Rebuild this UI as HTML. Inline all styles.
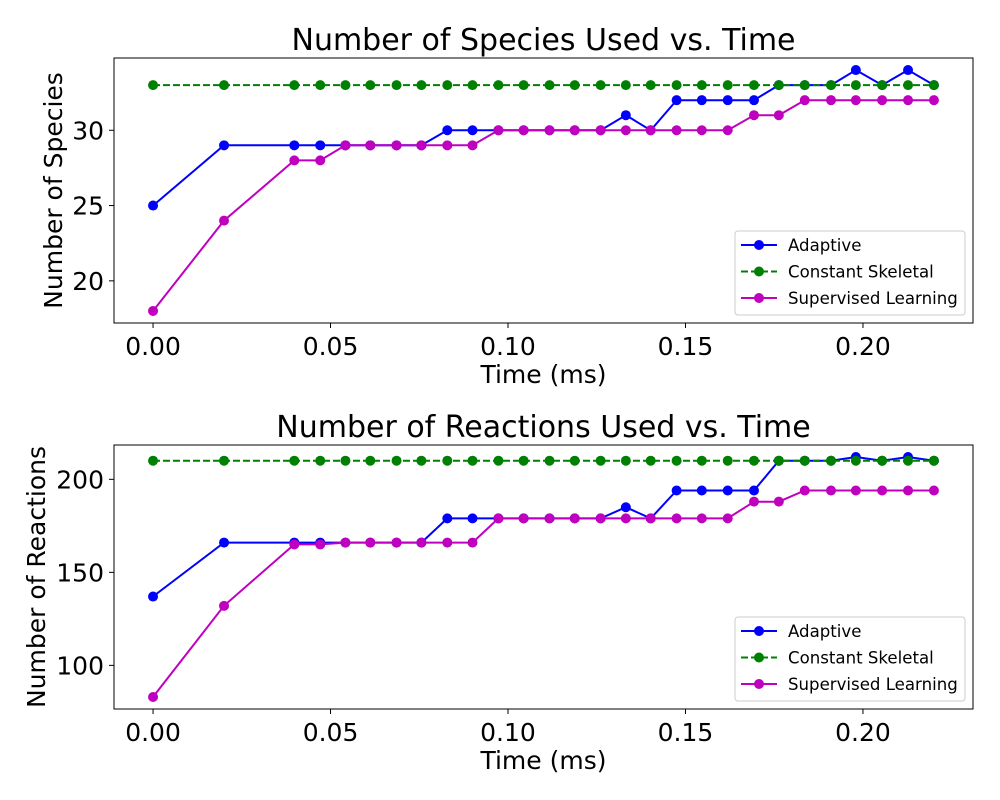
<!DOCTYPE html>
<html><head><meta charset="utf-8"><style>
body{margin:0;background:#fff;}
svg{display:block;font-family:"DejaVu Sans","Liberation Sans",sans-serif;}
</style></head><body>
<svg id="chart" width="1000" height="800" viewBox="0 0 1000 800"></svg>
<script>
const times=[0,0.02,0.0398,0.0471,0.0542,0.0612,0.0686,0.0756,0.0829,0.09,0.0973,0.1044,0.1117,0.1188,0.1261,0.1332,0.1402,0.1475,0.1546,0.1619,0.1693,0.1763,0.1836,0.191,0.198,0.2054,0.2127,0.22];
const speciesAdaptive=[25,29,29,29,29,29,29,29,30,30,30,30,30,30,30,31,30,32,32,32,32,33,33,33,34,33,34,33];
const speciesConstant=[33,33,33,33,33,33,33,33,33,33,33,33,33,33,33,33,33,33,33,33,33,33,33,33,33,33,33,33];
const speciesSL=[18,24,28,28,29,29,29,29,29,29,30,30,30,30,30,30,30,30,30,30,31,31,32,32,32,32,32,32];
const reactAdaptive=[137,166,166,166,166,166,166,166,179,179,179,179,179,179,179,185,179,194,194,194,194,210,210,210,212,210,212,210];
const reactConstant=[210,210,210,210,210,210,210,210,210,210,210,210,210,210,210,210,210,210,210,210,210,210,210,210,210,210,210,210];
const reactSL=[83,132,165,165,166,166,166,166,166,166,179,179,179,179,179,179,179,179,179,179,188,188,194,194,194,194,194,194];
const xTicks=[0,0.05,0.1,0.15,0.2];
const xTickLabels=["0.00","0.05","0.10","0.15","0.20"];
const speciesTicks=[20,25,30];
const reactTicks=[100,150,200];
const seriesNames=["Adaptive","Constant Skeletal","Supervised Learning"];

const svg=document.getElementById('chart');
const NS='http://www.w3.org/2000/svg';
function mk(tag,attrs,parent){const e=document.createElementNS(NS,tag);for(const k in attrs)e.setAttribute(k,attrs[k]);(parent||svg).appendChild(e);return e;}
const X0=114,X1=973;
function xScale(v){const d0=-0.011,d1=0.231;return X0+(v-d0)/(d1-d0)*(X1-X0);}
function extent(arrs){let mn=Infinity,mx=-Infinity;arrs.forEach(a=>a.forEach(v=>{mn=Math.min(mn,v);mx=Math.max(mx,v);}));const m=(mx-mn)*0.05;return [mn-m,mx+m];}

function panel(pre,top,bot,title,ylabel,series,yticks,ylx){
  const [d0,d1]=extent(series);
  const y=v=>bot-(v-d0)/(d1-d0)*(bot-top);
  const g=mk('g',{});
  
  
  const t=mk('text',{x:(X0+X1)/2,y:top-8,'text-anchor':'middle','font-size':30},g);t.textContent=title;
  
  const yl=mk('text',{x:0,y:0,'text-anchor':'middle','font-size':25,transform:`translate(${ylx},${(top+bot)/2}) rotate(-90)`},g);yl.textContent=ylabel;
  
  const xl=mk('text',{x:(X0+X1)/2,y:bot+60,'text-anchor':'middle','font-size':25},g);xl.textContent='Time (ms)';
  
  xTicks.forEach((v,i)=>{const px=xScale(v);
    const l=mk('line',{x1:px,x2:px,y1:bot,y2:bot+5,stroke:'#000','stroke-width':1},g);
    
    const tx=mk('text',{x:px,y:bot+32,'text-anchor':'middle','font-size':25},g);tx.textContent=xTickLabels[i];
    });
  yticks.forEach(v=>{const py=y(v);
    const l=mk('line',{x1:X0-5,x2:X0,y1:py,y2:py,stroke:'#000','stroke-width':1},g);
    
    const tx=mk('text',{x:X0-10,y:py+9,'text-anchor':'end','font-size':25},g);tx.textContent=String(v);
    });
  const colors=['#0000ff','#008000','#bf00bf'];
  const keys=['adaptive','constant-skeletal','supervised-learning'];
  series.forEach((arr,si)=>{
    const pts=arr.map((v,i)=>xScale(times[i]).toFixed(1)+','+y(v).toFixed(1)).join(' ');
    const pl=mk('polyline',{points:pts,fill:'none',stroke:colors[si],'stroke-width':2,'stroke-dasharray':si==1?'7,3':'none'},g);
    
    arr.forEach((v,i)=>{const c=mk('circle',{cx:xScale(times[i]),cy:y(v),r:5,fill:colors[si]},g);
      });
  });
  const fr=mk('rect',{x:X0,y:top,width:X1-X0,height:bot-top,fill:'none',stroke:'#000','stroke-width':1},g);
  
  const lg=mk('g',{},g);
  
  const ly=bot-92;
  mk('rect',{x:735,y:ly,width:230,height:84,rx:3,fill:'#fff',stroke:'#ccc','stroke-width':1},lg);
  seriesNames.forEach((n,i)=>{const yy=ly+14+i*26.5;
    const e=mk('g',{},lg);
    
    mk('line',{x1:741,x2:777,y1:yy,y2:yy,stroke:colors[i],'stroke-width':2,'stroke-dasharray':i==1?'7,3':'none'},e);
    mk('circle',{cx:759,cy:yy,r:5,fill:colors[i]},e);
    const tx=mk('text',{x:788,y:yy+6,'font-size':16.6},e);tx.textContent=n;});
}
panel('species',58,323,'Number of Species Used vs. Time','Number of Species',[speciesAdaptive,speciesConstant,speciesSL],speciesTicks,62);
panel('reactions',445,709,'Number of Reactions Used vs. Time','Number of Reactions',[reactAdaptive,reactConstant,reactSL],reactTicks,45);
</script>
</body></html>
